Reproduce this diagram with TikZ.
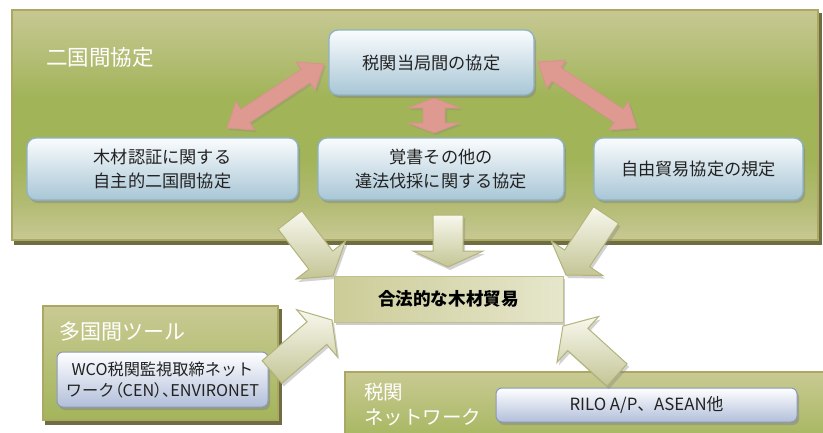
\documentclass[tikz,border=0pt]{standalone}
\usepackage{fontspec}
\setmainfont{Noto Sans CJK JP}
\usetikzlibrary{calc,shadows}

\definecolor{pT}{HTML}{C6C892}
\definecolor{pM2}{HTML}{B4BE76}
\definecolor{pG}{HTML}{A1B458}
\definecolor{pM}{HTML}{B2BB72}
\definecolor{pL}{HTML}{C8C994}
\definecolor{panelBorder}{HTML}{AAA862}
\definecolor{panelShadow}{HTML}{6E6E42}
\definecolor{bTop}{HTML}{FAFCFD}
\definecolor{bMid}{HTML}{D5E5ED}
\definecolor{bBot}{HTML}{A8C6D6}
\definecolor{bBord}{HTML}{8EB3C8}
\definecolor{txt}{HTML}{222222}
\definecolor{gTop}{HTML}{F8F8EE}
\definecolor{gBot}{HTML}{C3C595}
\definecolor{gBord}{HTML}{B3B37A}
\definecolor{pkDark}{HTML}{DE9A90}
\definecolor{pkLight}{HTML}{F4D4CC}
\definecolor{pkBord}{HTML}{D6948A}
\definecolor{cL}{HTML}{CCCC98}
\definecolor{cM}{HTML}{DDDDB6}
\definecolor{cR}{HTML}{E6E6CC}
\definecolor{cBord}{HTML}{C0C08C}
\definecolor{iBot}{HTML}{B2BFDA}
\definecolor{iBord}{HTML}{8A98BC}
\definecolor{sTop}{HTML}{C9CA93}
\definecolor{sMid}{HTML}{AEBC68}
\definecolor{sBot}{HTML}{A3B55B}

\pgfdeclareverticalshading{mainpanelshade}{100bp}{%
 color(0bp)=(pL); color(25bp)=(pL); color(33bp)=(pM); color(43bp)=(pG);
 color(56bp)=(pG); color(65bp)=(pM2); color(75bp)=(pT); color(100bp)=(pT)}

\newcommand\sarrow[6]{%
  \coordinate (sah) at ($(#3)!#6!(#2)$);
  \path[#1] ($(#2)!#4!90:(#3)$) -- ($(sah)!#4!90:(#3)$) -- ($(sah)!#5!90:(#3)$)
    -- (#3) -- ($(sah)!#5!-90:(#3)$) -- ($(sah)!#4!-90:(#3)$) -- ($(#2)!#4!-90:(#3)$) -- cycle;}
\newcommand\darrow[6]{%
  \coordinate (dah) at ($(#3)!#6!(#2)$);
  \coordinate (dat) at ($(#2)!#6!(#3)$);
  \path[#1] (#2) -- ($(dat)!#5!90:(#3)$) -- ($(dat)!#4!90:(#3)$) -- ($(dah)!#4!90:(#3)$)
    -- ($(dah)!#5!90:(#3)$) -- (#3) -- ($(dah)!#5!-90:(#3)$) -- ($(dah)!#4!-90:(#3)$)
    -- ($(dat)!#4!-90:(#3)$) -- ($(dat)!#5!-90:(#3)$) -- cycle;}

\tikzset{
  panelbox/.style={draw=panelBorder, line width=1.5pt, inner sep=0pt,
    copy shadow={shadow xshift=3pt, shadow yshift=-4pt, fill=panelShadow, draw=panelShadow, opacity=1}},
  smallpanel/.style={panelbox, top color=sTop, middle color=sMid, bottom color=sBot},
  plabel/.style={text=white, inner sep=0pt, anchor=west, align=left},
  bluebox/.style={draw=bBord, line width=1.3pt, rounded corners=9pt, top color=bTop, middle color=bMid,
    bottom color=bBot, drop shadow={shadow xshift=2pt, shadow yshift=-3pt, opacity=.45},
    text=txt, font=\fontsize{17.2}{24}\selectfont, align=center, inner sep=0pt},
  innerbox/.style={draw=iBord, line width=1pt, rounded corners=6pt, top color=white, bottom color=iBot,
    drop shadow={shadow xshift=2pt, shadow yshift=-3pt, opacity=.45},
    text=txt, align=center, inner sep=0pt},
  legalbox/.style={draw=cBord, line width=1pt, left color=cL, middle color=cM, right color=cR,
    drop shadow={shadow xshift=2pt, shadow yshift=-3pt, opacity=.4},
    text=black, font=\fontsize{17.6}{20}\selectfont\bfseries, inner sep=0pt},
  garrow/.style={draw=gBord, line width=1pt, top color=gTop, bottom color=gBot,
    drop shadow={shadow xshift=2pt, shadow yshift=-3pt, opacity=.35}},
  parrow/.style={draw=pkBord, line width=.8pt, left color=pkDark, middle color=pkLight, right color=pkDark,
    drop shadow={shadow xshift=2pt, shadow yshift=-2pt, opacity=.25}},
}

\begin{document}
\begin{tikzpicture}[x=1pt,y=-1pt]
\useasboundingbox (0,0) rectangle (823,432);
\fill[white] (0,0) rectangle (823,432);

% main panel
\node[panelbox, shading=mainpanelshade, minimum width=806pt, minimum height=230pt] (bil) at (415,125) {};
\node[plabel, font=\fontsize{21.5}{24}\selectfont] (bilT) at (46,57) {二国間協定};

% pink arrows
\coordinate (pl1) at (227,128); \coordinate (pl2) at (324,64);
\coordinate (pm1) at (434,98);  \coordinate (pm2) at (434,133);
\coordinate (pr1) at (538,62);  \coordinate (pr2) at (637,128);
\darrow{parrow}{pl1}{pl2}{8pt}{17pt}{22pt}
\darrow{parrow}{pm1}{pm2}{11pt}{26pt}{10pt}
\darrow{parrow}{pr1}{pr2}{8pt}{17pt}{22pt}

% blue boxes
\node[bluebox, minimum width=205pt, minimum height=65pt] (top) at (431.5,62.5) {税関当局間の協定};
\node[bluebox, minimum width=271pt, minimum height=62pt] (left) at (162.5,169) {木材認証に関する\\自主的二国間協定};
\node[bluebox, minimum width=246pt, minimum height=62pt] (mid) at (441,169) {覚書その他の\\違法伐採に関する協定};
\node[bluebox, minimum width=209pt, minimum height=62pt] (right) at (698.5,169) {自由貿易協定の規定};

% green arrows from main panel
\coordinate (ga1) at (290,220); \coordinate (gb1) at (333,276);
\coordinate (ga2) at (448,215); \coordinate (gb2) at (448,267);
\coordinate (ga3) at (606,215); \coordinate (gb3) at (566,275);
\sarrow{garrow}{ga1}{gb1}{15pt}{31pt}{20pt}
\sarrow{garrow}{ga2}{gb2}{15pt}{35pt}{16pt}
\sarrow{garrow}{ga3}{gb3}{15pt}{31pt}{20pt}

% center box
\node[legalbox, minimum width=229pt, minimum height=46pt] (legal) at (448.5,299) {合法的な木材貿易};

% multilateral panel
\node[smallpanel, minimum width=235pt, minimum height=114pt] (multi) at (160.5,363) {};
\node[plabel, font=\fontsize{21}{24}\selectfont] (multiT) at (59,332) {多国間ツール};
\node[innerbox, minimum width=211pt, minimum height=55pt, font=\fontsize{16.2}{21}\selectfont] (wco) at (162.5,379.5)
  {WCO税関監視取締ネット\\ワーク{\addfontfeatures{RawFeature=+palt}（CEN）、}ENVIRONET};

% customs network panel
\node[smallpanel, minimum width=485pt, minimum height=73pt] (net) at (587.5,408.5) {};
\node[plabel, font=\fontsize{19.5}{25}\selectfont] (netT) at (364,404.5) {税関\\ネットワーク};
\node[innerbox, minimum width=301pt, minimum height=34pt, font=\fontsize{16.8}{20}\selectfont] (rilo) at (646.5,405)
  {RILO A/P、ASEAN他};

% arrows from lower panels
\coordinate (ga4) at (272,372); \coordinate (gb4) at (332,320);
\coordinate (ga5) at (617,375); \coordinate (gb5) at (563,326);
\sarrow{garrow}{ga4}{gb4}{15pt}{31pt}{20pt}
\sarrow{garrow}{ga5}{gb5}{15pt}{31pt}{20pt}
\end{tikzpicture}
\end{document}
